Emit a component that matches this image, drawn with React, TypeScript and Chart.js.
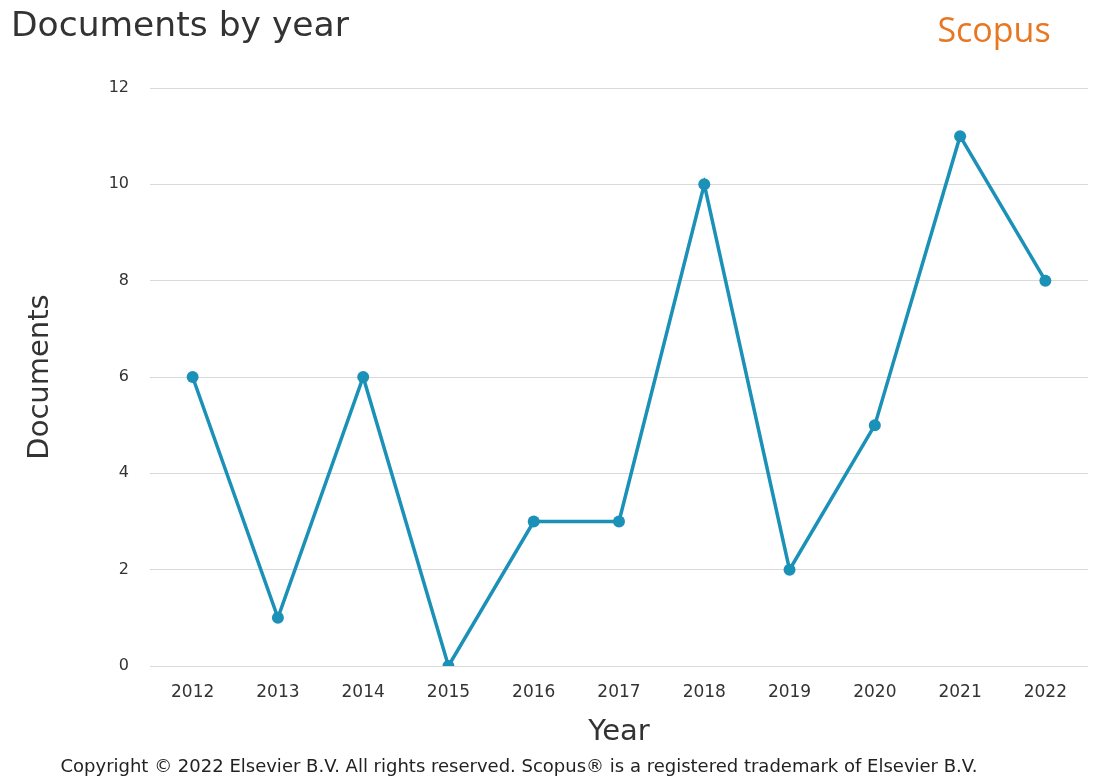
import React, { useEffect, useRef } from "react";
import { Chart, registerables } from "chart.js";

Chart.register(...registerables);

const years = ["2012", "2013", "2014", "2015", "2016", "2017", "2018", "2019", "2020", "2021", "2022"];
const documents = [6, 1, 6, 0, 3, 3, 10, 2, 5, 11, 8];
const chartTitle = "Documents by year";
const brandLabel = "Scopus";
const copyrightText = "Copyright © 2022 Elsevier B.V. All rights reserved. Scopus® is a registered trademark of Elsevier B.V.";
const xTitle = "Year";
const yTitle = "Documents";

const FONT = "'DejaVu Sans', sans-serif";

const textPlugin = {
  id: "extraText",
  afterDraw(chart: any) {
    const ctx = chart.ctx;
    ctx.save();
    ctx.fillStyle = "#333333";
    ctx.font = `34.5px ${FONT}`;
    ctx.textAlign = "left";
    ctx.textBaseline = "middle";
    ctx.fillText(chartTitle, 11, 27);

    ctx.fillStyle = "#e87722";
    ctx.font = `34px 'Open Sans', sans-serif`;
    ctx.textAlign = "center";
    ctx.fillText(brandLabel, 994, 32);

    ctx.fillStyle = "#222222";
    ctx.font = `18px ${FONT}`;
    ctx.textAlign = "center";
    ctx.fillText(copyrightText, 519, 767);
    ctx.restore();
  },
};

export default function App() {
  const ref = useRef<HTMLCanvasElement>(null);
  useEffect(() => {
    if (!ref.current) return;
    const chart = new Chart(ref.current, {
      type: "line",
      data: {
        labels: years,
        datasets: [
          {
            data: documents,
            borderColor: "#1b91b7",
            backgroundColor: "#1b91b7",
            borderWidth: 3.5,
            pointRadius: 6,
            pointBackgroundColor: "#1b91b7",
            pointBorderWidth: 0,
            tension: 0,
          },
        ],
      },
      options: {
        animation: false,
        responsive: false,
        maintainAspectRatio: false,
        layout: { padding: { top: 88, right: 6, bottom: 33, left: 0 } },
        plugins: { legend: { display: false }, tooltip: { enabled: false } },
        scales: {
          x: {
            offset: true,
            grid: { display: false, drawTicks: false },
            border: { display: false },
            ticks: { color: "#333333", font: { family: FONT, size: 17 }, padding: 16 },
            title: { display: true, text: xTitle, color: "#333333", font: { family: FONT, size: 29 }, padding: { top: 0, bottom: 0 } },
            afterFit(scale: any) {
              scale.height = 84;
            },
          },
          y: {
            min: 0,
            max: 12,
            ticks: { stepSize: 2, color: "#333333", font: { family: FONT, size: 16 }, padding: 21 },
            grid: { color: "#d9d9d9", lineWidth: 1, drawTicks: false },
            border: { display: false },
            title: { display: true, text: yTitle, color: "#333333", font: { family: FONT, size: 29 }, padding: { top: 23, bottom: 0 } },
            afterFit(scale: any) {
              scale.width = 150;
            },
          },
        },
      },
      plugins: [textPlugin],
    });
    return () => chart.destroy();
  }, []);
  return (
    <div style={{ position: "fixed", left: 0, top: 0, width: 1094, height: 783, background: "#ffffff" }}>
      <canvas ref={ref} width={1094} height={783} style={{ width: 1094, height: 783 }} />
    </div>
  );
}
